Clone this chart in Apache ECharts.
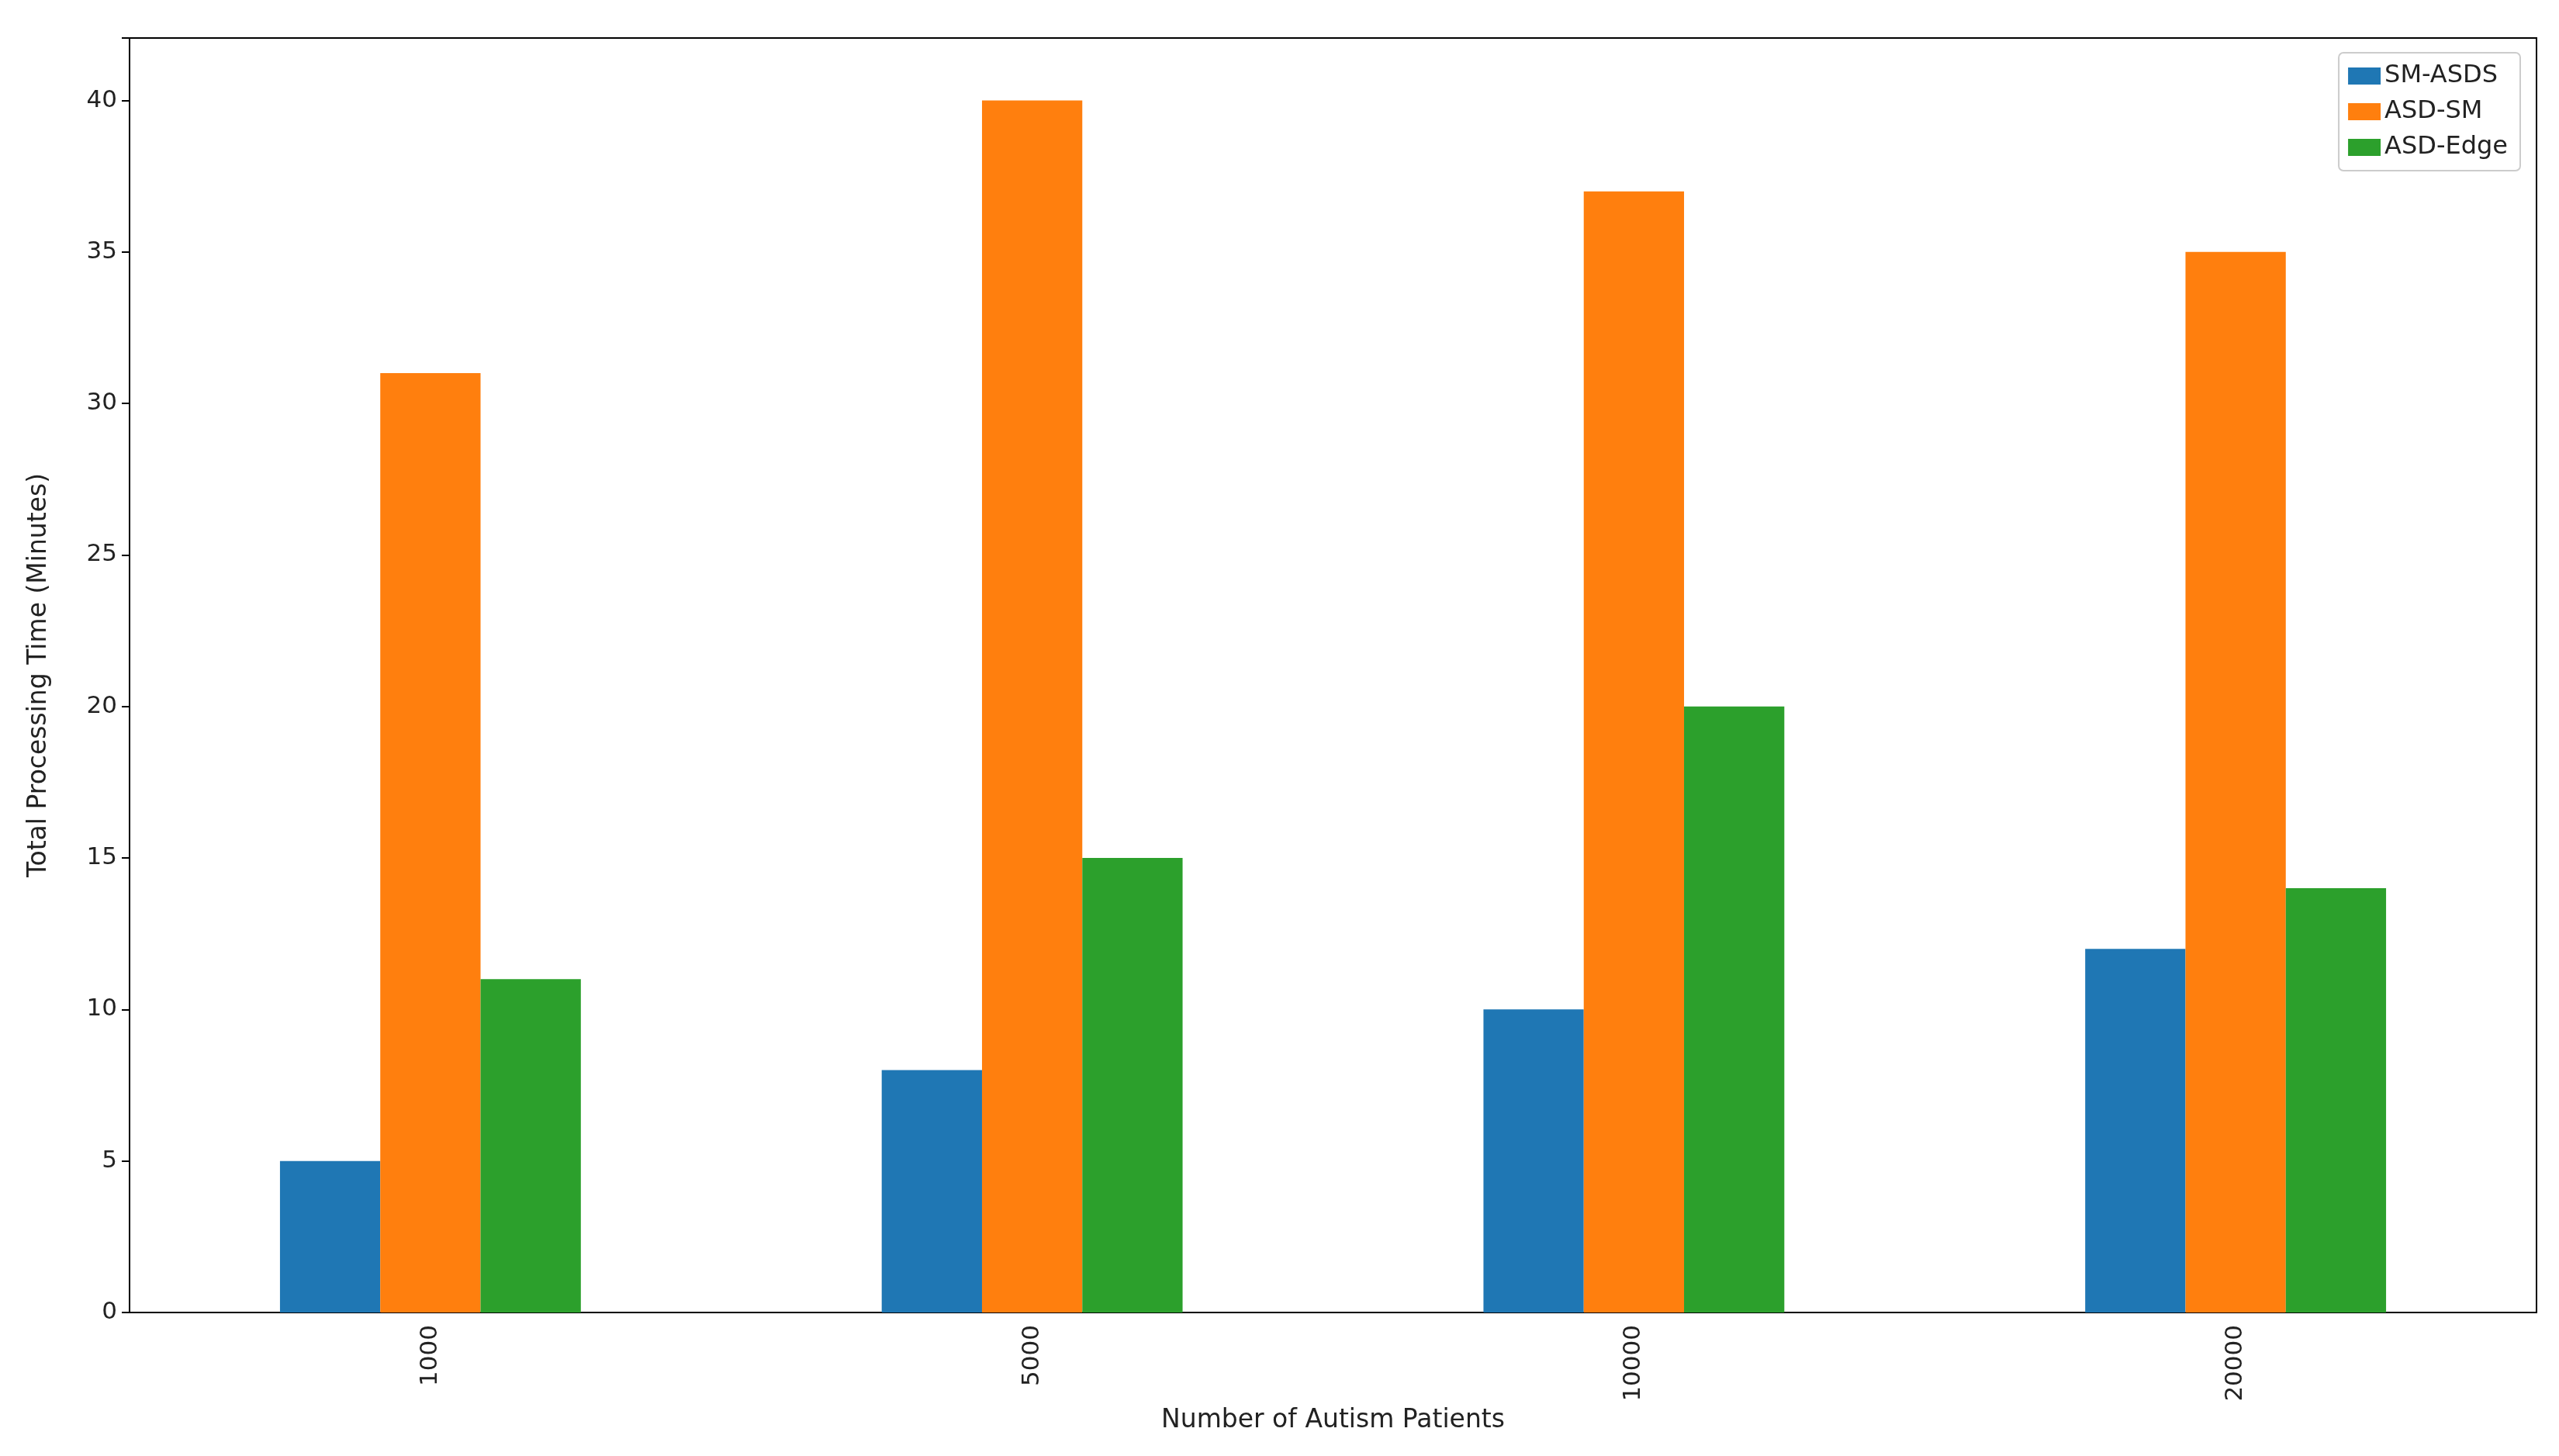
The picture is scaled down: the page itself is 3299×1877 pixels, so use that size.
<!DOCTYPE html>
<html>
<head>
<meta charset="utf-8">
<script src="https://cdn.jsdelivr.net/npm/echarts@6/dist/echarts.min.js"></script>
<style>html,body{margin:0;padding:0;background:#fff}#chart{width:3299px;height:1877px}</style>
</head>
<body>
<div id="chart"></div>
<script>
// 数据
const categories = ['1000', '5000', '10000', '20000'];
const smAsds = [5, 8, 10, 12];
const asdSm = [31, 40, 37, 35];
const asdEdge = [11, 15, 20, 14];
const yTicks = [0, 5, 10, 15, 20, 25, 30, 35, 40];

const font = 'DejaVu Sans';
const chart = echarts.init(document.getElementById('chart'));

function bar(name, data, color) {
  return { name, type: 'bar', data, barGap: '0%', barCategoryGap: '50%',
    itemStyle: { color }, emphasis: { disabled: true } };
}

chart.setOption({
  animation: false,
  textStyle: { fontFamily: font },
  grid: { left: 167, right: 29, top: 49, bottom: 185, containLabel: false },
  legend: {
    right: 50, top: 68, orient: 'vertical', itemWidth: 42, itemHeight: 22, itemGap: 14,
    padding: [14, 16, 14, 12], borderColor: '#ccc', borderWidth: 2, borderRadius: 6,
    icon: 'rect', textStyle: { fontSize: 32, color: '#222', fontFamily: font }
  },
  xAxis: {
    type: 'category', data: categories,
    name: 'Number of Autism Patients', nameLocation: 'middle', nameGap: 108,
    nameTextStyle: { fontSize: 33, color: '#222', fontFamily: font },
    axisLine: { lineStyle: { color: '#000', width: 2 } },
    axisTick: { alignWithLabel: true, length: 10, lineStyle: { color: '#000', width: 2 } },
    axisLabel: { rotate: 90, fontSize: 31, color: '#222', margin: 16 }
  },
  yAxis: {
    type: 'value', min: 0, max: 42.06, interval: 5,
    name: 'Total Processing Time (Minutes)', nameLocation: 'middle', nameGap: 100,
    nameTextStyle: { fontSize: 33, color: '#222', fontFamily: font },
    axisLine: { show: true, lineStyle: { color: '#000', width: 2 } },
    axisTick: { show: true, length: 10, lineStyle: { color: '#000', width: 2 } },
    splitLine: { show: false },
    axisLabel: { fontSize: 31, color: '#222', margin: 16,
      formatter: v => yTicks.includes(v) ? String(v) : '' }
  },
  series: [
    bar('SM-ASDS', smAsds, '#1f77b4'),
    bar('ASD-SM', asdSm, '#ff7f0e'),
    bar('ASD-Edge', asdEdge, '#2ca02c')
  ]
});
// 右侧与上侧边框
chart.setOption({ graphic: [{ type: 'rect', shape: { x: 167, y: 49, width: 3299 - 167 - 29, height: 1877 - 49 - 185 },
  style: { fill: 'none', stroke: '#000', lineWidth: 2 }, silent: true, z: -1 }] });
</script>
</body>
</html>
